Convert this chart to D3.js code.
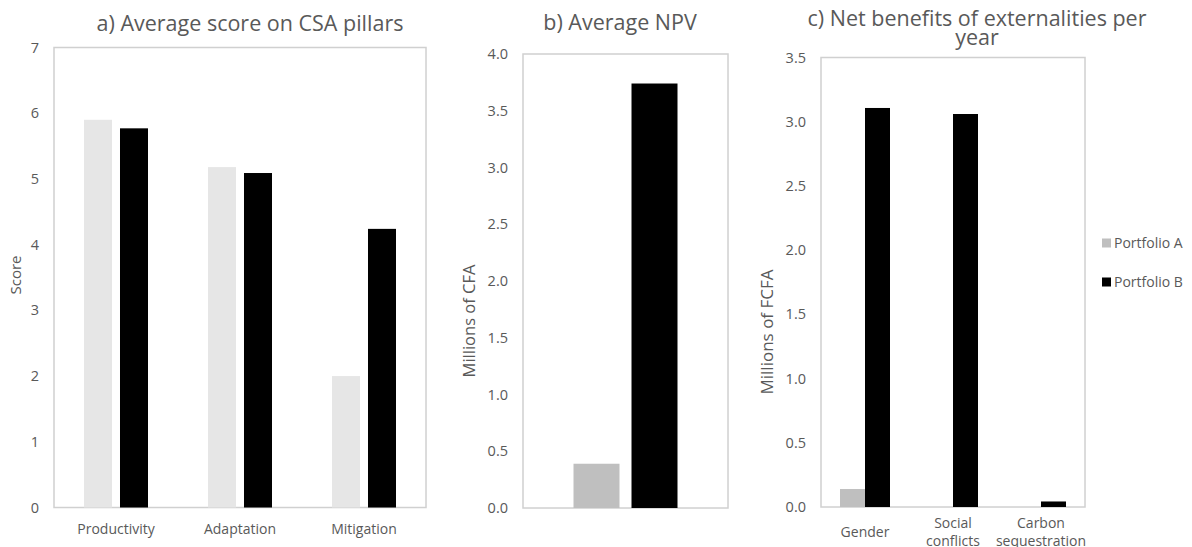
<!DOCTYPE html>
<html><head><meta charset="utf-8">
<script src="https://cdn.jsdelivr.net/npm/d3@7"></script>
<style>
body{margin:0;background:#fff;}
text{font-family:"Open Sans",sans-serif;fill:#595959;}
</style></head>
<body>
<svg id="chart" width="1192" height="547"></svg>
<script>
// ---------- data ----------
const seriesNames = ["Portfolio A", "Portfolio B"];

const catsA = ["Productivity", "Adaptation", "Mitigation"];
const scoreA = [5.90, 5.18, 2.00];   // Portfolio A
const scoreB = [5.77, 5.09, 4.24];   // Portfolio B
const ticksA = [0, 1, 2, 3, 4, 5, 6, 7];

const catsB = [""];
const npvA = [0.39];
const npvB = [3.74];
const ticksB = [0, 0.5, 1.0, 1.5, 2.0, 2.5, 3.0, 3.5, 4.0];

const catsC = [["Gender"], ["Social", "conflicts"], ["Carbon", "sequestration"]];
const extA = [0.14, 0, 0];
const extB = [3.107, 3.06, 0.043];
const ticksC = [0, 0.5, 1.0, 1.5, 2.0, 2.5, 3.0, 3.5];

// ---------- drawing ----------
const svg = d3.select("#chart");

function panel(o){
  const g = svg.append("g");
  const y = d3.scaleLinear().domain([0, o.max]).range([o.y1, o.y0]);
  const x0 = d3.scaleBand().domain(d3.range(o.cats.length)).range([o.x0, o.x1]);
  const x1 = d3.scaleBand().domain(seriesNames).range([0, o.groupW]).paddingInner(o.inner);
  const colors = d3.scaleOrdinal().domain(seriesNames).range(o.colors);

  // box
  g.append("rect").attr("x", o.x0).attr("y", o.y0)
    .attr("width", o.x1 - o.x0).attr("height", o.y1 - o.y0)
    .attr("fill", "none").attr("stroke", "#d0d0d0").attr("stroke-width", 1.5);

  // bars
  const rows = o.cats.map((c, i) => ({i, vals: [o.a[i], o.b[i]]}));
  const grp = g.selectAll("g.grp").data(rows).join("g")
    .attr("transform", d => `translate(${x0(d.i) + x0.bandwidth()/2 - o.groupW/2},0)`);
  grp.selectAll("rect").data(d => d.vals.map((v, k) => ({s: seriesNames[k], v})))
    .join("rect")
    .attr("x", d => x1(d.s)).attr("width", x1.bandwidth())
    .attr("y", d => y(d.v)).attr("height", d => y(0) - y(d.v))
    .attr("fill", d => colors(d.s));

  // y axis
  const ax = g.append("g").attr("transform", `translate(${o.x0},0)`)
    .call(d3.axisLeft(y).tickValues(o.ticks).tickSize(0).tickPadding(15).tickFormat(o.fmt));
  ax.select(".domain").remove();
  ax.selectAll("text").style("font-size", o.tickFs + "px").attr("fill", "#595959");

  // category labels
  o.cats.forEach((c, i) => {
    const lines = Array.isArray(c) ? c : [c];
    const cx = x0(i) + x0.bandwidth()/2;
    const t = g.append("text").attr("text-anchor", "middle").style("font-size", "14px");
    const baseY = lines.length === 1 ? o.labelY + (o.twoLine ? 9 : 0) : o.labelY;
    lines.forEach((l, k) => {
      t.append("tspan").attr("x", cx).attr("y", baseY + k * 18).text(l);
    });
  });

  // y title
  g.append("text").attr("transform", `translate(${o.ytX},${o.ytY}) rotate(-90)`)
    .attr("text-anchor", "middle").style("font-size", o.ytFs + "px").text(o.ytitle);

  // title
  const tt = g.append("text").attr("text-anchor", "middle").style("font-size", "21.5px");
  o.title.forEach((l, k) => tt.append("tspan").attr("x", o.tX).attr("y", o.tY + k * 19).text(l));
}

panel({cats: catsA, a: scoreA, b: scoreB, max: 7, ticks: ticksA, fmt: d3.format("d"), tickFs: 14.5,
  x0: 54, x1: 426, y0: 47.5, y1: 507.5, groupW: 64, inner: 0.222,
  colors: ["#e6e6e6", "#000000"], labelY: 534, twoLine: false,
  ytitle: "Score", ytX: 21, ytY: 275, ytFs: 15,
  title: ["a) Average score on CSA pillars"], tX: 250, tY: 31});

panel({cats: catsB, a: npvA, b: npvB, max: 4, ticks: ticksB, fmt: d3.format(".1f"), tickFs: 14.5,
  x0: 523, x1: 728, y0: 54, y1: 508, groupW: 104, inner: 0.207,
  colors: ["#bfbfbf", "#000000"], labelY: 534, twoLine: false,
  ytitle: "Millions of CFA", ytX: 475, ytY: 321, ytFs: 16.5,
  title: ["b) Average NPV"], tX: 620, tY: 30});

panel({cats: catsC, a: extA, b: extB, max: 3.5, ticks: ticksC, fmt: d3.format(".1f"), tickFs: 14.5,
  x0: 821, x1: 1085, y0: 57.5, y1: 507, groupW: 50, inner: 0,
  colors: ["#bfbfbf", "#000000"], labelY: 528, twoLine: true,
  ytitle: "Millions of FCFA", ytX: 773, ytY: 332, ytFs: 17,
  title: ["c) Net benefits of externalities per", "year"], tX: 977, tY: 26});

// legend
const leg = svg.append("g");
const legColors = ["#bfbfbf", "#000000"];
seriesNames.forEach((s, k) => {
  const ly = 243 + k * 39;
  leg.append("rect").attr("x", 1102).attr("y", ly - 4.5).attr("width", 9).attr("height", 9).attr("fill", legColors[k]);
  leg.append("text").attr("x", 1114).attr("y", ly + 5).style("font-size", "14px").text(s);
});
</script>
</body></html>
